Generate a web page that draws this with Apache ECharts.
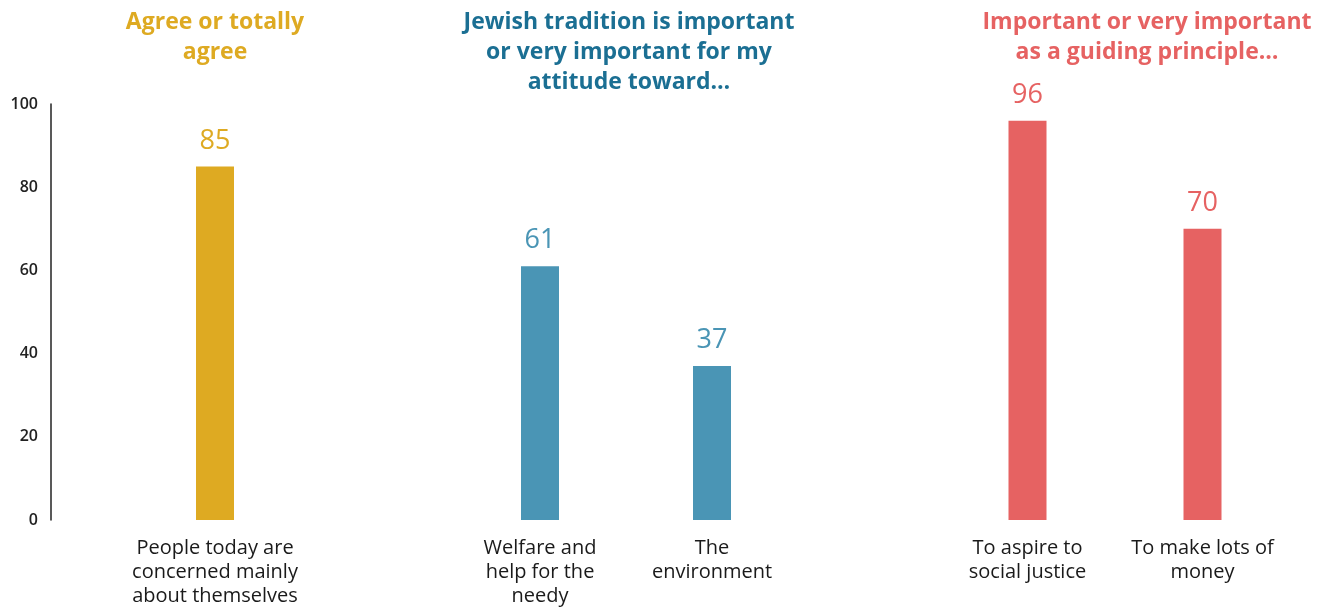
<!DOCTYPE html>
<html>
<head>
<meta charset="utf-8">
<script src="https://cdn.jsdelivr.net/npm/echarts@6/dist/echarts.min.js"></script>
<style>
  html, body { margin: 0; padding: 0; background: #fff; }
  #main { width: 1321px; height: 608px; }
</style>
</head>
<body>
<div id="main"></div>
<script>
  // group headings
  var titles = [
    'Agree or totally\nagree',
    'Jewish tradition is important\nor very important for my\nattitude toward\u2026',
    'Important or very important\nas a guiding principle\u2026'
  ];
  // categories per group
  var catsAgree = ['People today are\nconcerned mainly\nabout themselves'];
  var catsTradition = ['Welfare and\nhelp for the\nneedy', 'The\nenvironment'];
  var catsPrinciple = ['To aspire to\nsocial justice', 'To make lots of\nmoney'];
  // values (%)
  var valAgree = [85];
  var valTradition = [61, 37];
  var valPrinciple = [96, 70];
  // y ticks
  var yTicks = [0, 20, 40, 60, 80, 100];

  var colors = ['#DEAA22', '#4A95B5', '#E66262'];
  var titleColors = ['#DEAA22', '#1B6F93', '#E66262'];

  var groups = [
    { cats: catsAgree, vals: valAgree },
    { cats: catsTradition, vals: valTradition },
    { cats: catsPrinciple, vals: valPrinciple }
  ];

  var myChart = echarts.init(document.getElementById('main'));

  // grid placement per group
  var gridBoxes = [
    { left: 51, width: 328 },
    { left: 454, width: 344 },
    { left: 940, width: 350 }
  ];
  var titleCenters = [215, 629, 1147];

  var option = {
    animation: false,
    textStyle: { fontFamily: 'Open Sans' },
    title: titles.map(function (t, i) {
      return {
        text: t,
        left: titleCenters[i],
        top: 7,
        padding: 0,
        textAlign: 'center',
        textStyle: {
          fontFamily: 'Open Sans',
          fontWeight: 'bold',
          fontSize: 23,
          lineHeight: 30,
          color: titleColors[i]
        }
      };
    }),
    grid: gridBoxes.map(function (g) {
      return { left: g.left, width: g.width, top: 104, bottom: 88, containLabel: false };
    }),
    xAxis: groups.map(function (g, i) {
      return {
        type: 'category',
        gridIndex: i,
        data: g.cats,
        axisLine: { show: false },
        axisTick: { show: false },
        axisLabel: {
          interval: 0,
          margin: 16,
          fontSize: 20,
          lineHeight: 24,
          color: '#1a1a1a'
        }
      };
    }),
    yAxis: groups.map(function (g, i) {
      return {
        type: 'value',
        gridIndex: i,
        min: 0,
        max: 100,
        interval: 20,
        splitLine: { show: false },
        axisTick: { show: false },
        axisLine: { show: i === 0, lineStyle: { color: '#222', width: 1.5 } },
        axisLabel: {
          show: i === 0,
          margin: 13,
          fontSize: 16,
          fontWeight: 600,
          color: '#222',
          customValues: yTicks
        }
      };
    }),
    series: groups.map(function (g, i) {
      return {
        type: 'bar',
        xAxisIndex: i,
        yAxisIndex: i,
        data: g.vals,
        barWidth: 38,
        itemStyle: { color: colors[i] },
        label: {
          show: true,
          position: 'top',
          distance: 12,
          fontSize: 27,
          color: colors[i]
        }
      };
    })
  };

  myChart.setOption(option);
</script>
</body>
</html>
